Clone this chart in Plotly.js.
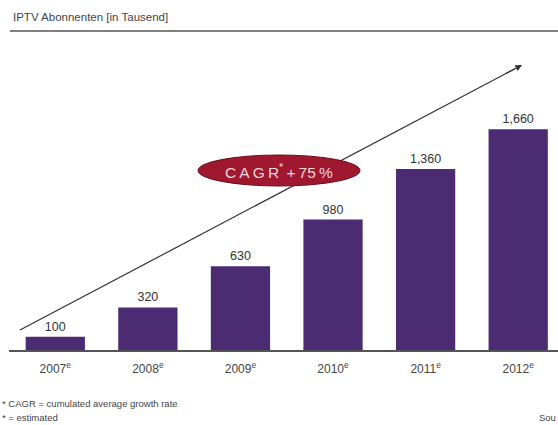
<!DOCTYPE html>
<html>
<head>
<meta charset="utf-8">
<script src="https://cdn.plot.ly/plotly-3.0.1.min.js"></script>
<style>html,body{margin:0;padding:0;background:#fff;}#chart{width:558px;height:425px;}</style>
</head>
<body>
<div id="chart"></div>
<script>
const years = ["2007", "2008", "2009", "2010", "2011", "2012"];
const tickLabels = ["2007<sup>e</sup>", "2008<sup>e</sup>", "2009<sup>e</sup>", "2010<sup>e</sup>", "2011<sup>e</sup>", "2012<sup>e</sup>"];
const subscribers = [100, 320, 630, 980, 1360, 1660];
const chartTitle = "IPTV Abonnenten [in Tausend]";
const cagrLabel = "C\u2009A\u2009G\u2009R<sup>*</sup>\u2009+\u200975\u2009%";
const footnotes = ["* CAGR = cumulated average growth rate", "* = estimated"];

// pixel helpers (plot area: l=9, width=549, top=40, height=310)
const px = x => (x - 9) / 549;
const py = y => (350 - y) / 310;

const trace = {
  type: "bar",
  x: years,
  y: subscribers,
  width: 0.64,
  marker: { color: "#4b2c72" },
  text: subscribers.map(v => v.toLocaleString("en-US")),
  textposition: "outside",
  textfont: { family: "Liberation Sans, Arial, sans-serif", size: 12.5, color: "#333" },
  cliponaxis: false,
  hoverinfo: "none"
};

const layout = {
  width: 558, height: 425,
  margin: { l: 9, r: 0, t: 40, b: 75 },
  paper_bgcolor: "#fff", plot_bgcolor: "#fff",
  showlegend: false,
  font: { family: "Liberation Sans, Arial, sans-serif", color: "#444" },
  xaxis: {
    type: "category",
    range: [-0.5, 5.43],
    tickvals: years, ticktext: tickLabels,
    showline: true, linecolor: "#555", linewidth: 1.5,
    ticks: "", showgrid: false, zeroline: false,
    ticklabelstandoff: 7,
    tickfont: { size: 12, color: "#444" }
  },
  yaxis: {
    range: [0, 2330],
    visible: false, showgrid: false, zeroline: false
  },
  title: {
    text: chartTitle,
    x: 13 / 558, xanchor: "left",
    y: 1 - 17 / 425, yanchor: "middle",
    font: { size: 11.5, color: "#444" }
  },
  shapes: [
    { type: "line", xref: "paper", yref: "paper", x0: px(10), x1: 1, y0: py(31), y1: py(31),
      line: { color: "#555", width: 1.5 } },
    { type: "line", xref: "paper", yref: "paper", x0: px(20), y0: py(330), x1: px(515), y1: py(68.7),
      line: { color: "#333", width: 1.2 }, layer: "above" },
    { type: "circle", xref: "paper", yref: "paper", x0: px(198), x1: px(360), y0: py(186), y1: py(155),
      fillcolor: "#a0182f", line: { color: "#6a0d1b", width: 1 }, layer: "above" }
  ],
  annotations: [
    { xref: "paper", yref: "paper", x: px(522), y: py(65), ax: -18, ay: 9.5,
      showarrow: true, arrowhead: 2, arrowsize: 1.1, arrowwidth: 1.2, arrowcolor: "#333", text: "" },
    { xref: "paper", yref: "paper", x: px(279), y: py(170.5), text: cagrLabel, showarrow: false,
      font: { size: 15.5, color: "#f4d6db", family: "Liberation Sans, Arial, sans-serif" } },
    { xref: "paper", yref: "paper", x: px(0), y: py(403), xanchor: "left", yanchor: "middle",
      text: footnotes[0], showarrow: false, font: { size: 9.5, color: "#444" } },
    { xref: "paper", yref: "paper", x: px(0), y: py(418), xanchor: "left", yanchor: "middle",
      text: footnotes[1], showarrow: false, font: { size: 9.5, color: "#444" } },
    { xref: "paper", yref: "paper", x: 1, y: py(418), xanchor: "right", yanchor: "middle",
      text: "Sou", showarrow: false, font: { size: 9.5, color: "#444" } }
  ]
};

Plotly.newPlot("chart", [trace], layout, { displayModeBar: false, staticPlot: true });
</script>
</body>
</html>
